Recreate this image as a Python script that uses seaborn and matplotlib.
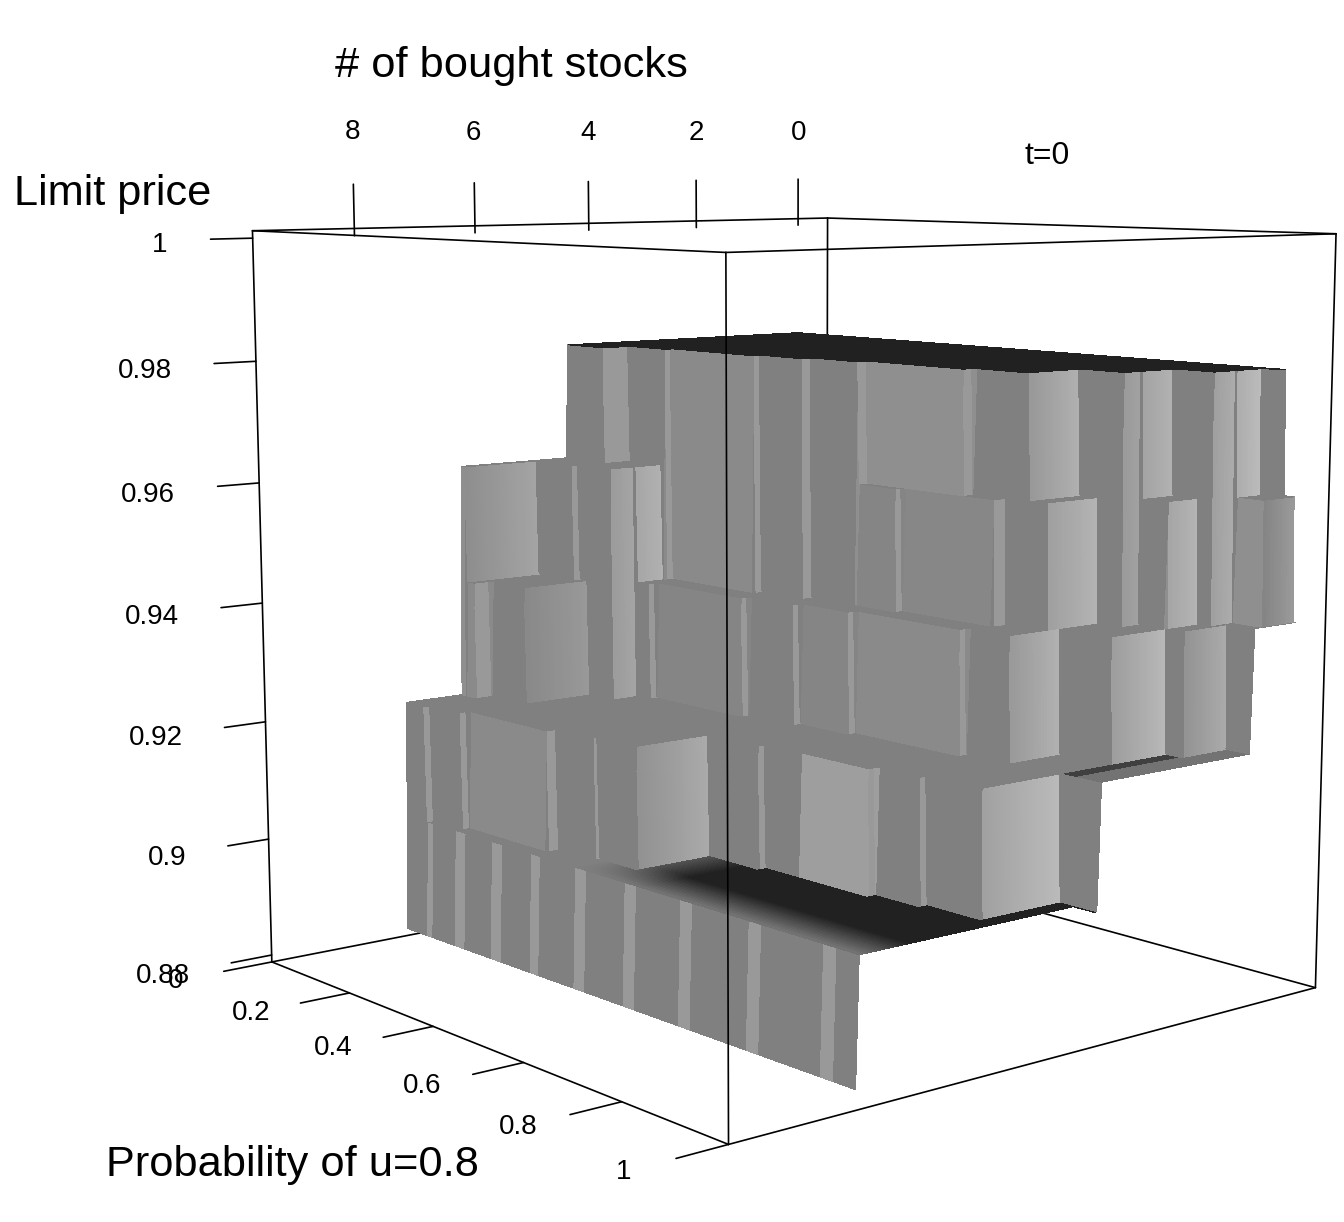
import numpy as np
import matplotlib
matplotlib.use("Agg")
import matplotlib.pyplot as plt
import seaborn as sns
from mpl_toolkits.mplot3d import proj3d

# (# stocks, probability) staircases: region with price >= level reaches s <= s_xx on each p interval
# run_xx / jump_xx are the gray tones of the walls, a tone of -1 is left out
p_98 = [0, .086, .166, .346, .432, .521, .708, .804, .879, .945, .975]
s_98 = [4.4, 3.92, 3.76, 3.60, 3.42, 3.20, 3.02, 2.05, 1.05, .15]
run_98 = [.5, .5, .54, .5, .5, .56, .5, .5, .5, .5]
jump_98 = [.6, .6, .6, .6, .6, .6, .64, .65, .68, .5]

p_96 = [0, .01, .089, .163, .235, .32, .6, .77, .84, .925, .996]
s_96 = [6.35, 5.0, 4.86, 3.76, 3.57, 3.42, 3.25, 2.95, 1.7, .63]
run_96 = [.56, .5, .5, .5, .5, .52, .53, .5, .5, .56]
jump_96 = [.6, .6, .66, .6, .6, .6, .6, .68, .7, .56]

p_94 = [0, .032, .109, .192, .379, .471, .567, .767, .844, .93, .96, 1]
s_94 = [6.35, 6.05, 4.43, 4.29, 4.14, 3.97, 3.83, 3.66, 2.7, 1.7, .85]
run_94 = [.54, .5, .5, .52, .5, .52, .54, .5, .5, .5, .5]
jump_94 = [.6, .58, .6, .6, .6, .6, .6, .65, .67, .62, .5]

p_92 = [0, .048, .115, .298, .379, .46, .56, .63, .76, .84, .935, 1]
s_92 = [7.35, 7.15, 7.0, 6.85, 6.7, 5.47, 5.32, 5.32, 5.18, 5.03, 3.62]
run_92 = [.5, .5, .54, .5, .5, .5, .5, .62, .5, .5, .5]
jump_92 = [.6, .6, .6, .6, .62, .6, .5, .6, .6, .68, .5]

p_90 = [0, .0425, .064, .122, .143, .209, .231, .299, .32, .401, .423, .51, .532, .625, .647, .761, .783, .901, .923, .965, 1]
s_90 = [7.35] * 19 + [3.72]
run_90 = [.5, .6, .5, .6, .5, .6, .5, .6, .5, .6, .5, .6, .5, .6, .5, .6, .5, .6, .5, -1]
jump_90 = [.5] * 18 + [-1, -1]

levels = [.98, .96, .94, .92, .90]
stairs = {.98: (p_98, s_98, run_98, jump_98), .96: (p_96, s_96, run_96, jump_96),
          .94: (p_94, s_94, run_94, jump_94), .92: (p_92, s_92, run_92, jump_92),
          .90: (p_90, s_90, run_90, jump_90)}
floor_level = .88

stock_ticks = [0, 2, 4, 6, 8]
prob_ticks = [0, .2, .4, .6, .8, 1]
prob_labels = ['0', '0.2', '0.4', '0.6', '0.8', '1']
price_ticks = [.88, .9, .92, .94, .96, .98, 1]
price_labels = ['0.88', '0.9', '0.92', '0.94', '0.96', '0.98', '1']

xlim = (-.6, 9.6)
ylim = (0, 1)
zlim = (.8788, 1.0012)


def reach(level, p):
    breaks, vals = stairs[level][:2]
    i = np.searchsorted(breaks, p, side='right') - 1
    if p >= breaks[-1] and breaks[-1] < 1:
        return -1.0
    return vals[min(i, len(vals) - 1)]


def ledge_tone(level, s, p):
    if level == .98:
        return .13
    if level == .92 and p > .935:
        return .25 if p < .96 else .45
    if level == .90:
        fade = np.clip((7.4 - s) / .9, 0, 1) * np.clip((p - .4) / .14, 0, 1)
        return .5 - .37 * fade
    return .5


s_nodes = np.arange(0, 7.41, .05)
p_nodes = np.linspace(0, 1, 251)
Z = np.full((len(p_nodes), len(s_nodes)), floor_level)
for lev in levels[::-1]:
    reach_p = np.array([reach(lev, p) for p in p_nodes])
    Z[s_nodes[None, :] <= reach_p[:, None]] = lev

tones = np.full(Z.shape, -1.0)
for a in range(len(p_nodes) - 1):
    for b in range(len(s_nodes) - 1):
        q = Z[a:a + 2, b:b + 2]
        top = q.max()
        pm = (p_nodes[a] + p_nodes[a + 1]) / 2
        sm = (s_nodes[b] + s_nodes[b + 1]) / 2
        if top - q.min() < 1e-6:
            tones[a, b] = ledge_tone(top, sm, pm) if top > floor_level else -1
            continue
        breaks, vals, run, jump = stairs[round(top, 2)]
        k = min(np.searchsorted(breaks, pm, side='right') - 1, len(run) - 1)
        if q[0, 0] != q[0, 1] or q[1, 0] != q[1, 1]:
            tones[a, b] = run[k]
        else:
            k = np.searchsorted(breaks, p_nodes[a + 1], side='right') - 2
            k = int(np.clip(k, 0, len(jump) - 1))
            t = jump[k]
            hi = vals[k]
            lo = vals[k + 1] if k + 1 < len(vals) else 0
            frac = np.clip((hi - sm) / max(hi - lo, .01), 0, 1)
            tones[a, b] = t * (.92 + .16 * frac) if hi - lo > .5 and t > 0 else t

sns.set_theme(style="white", font="Liberation Sans")
gray = sns.color_palette("gray", as_cmap=True)
colors = gray(np.clip(tones, 0, 1))
colors[tones < 0, 3] = 0

fig = plt.figure(figsize=(13.44, 12.22), dpi=100)
ax = fig.add_axes([154 / 1344, -20 / 1222, 1230 / 1344, 1230 / 1222], projection='3d', computed_zorder=False)
ax.set_proj_type('persp', focal_length=.46)
ax.view_init(elev=8.8, azim=50.2)
ax.set_box_aspect((1, 1, .995), zoom=1.03)
ax.set_xlim(*xlim, view_margin=0)
ax.set_ylim(*ylim, view_margin=0)
ax.set_zlim(*zlim, view_margin=0)
ax.set_xticks([])
ax.set_yticks([])
ax.set_zticks([])
ax.set_axis_off()

X, Y = np.meshgrid(s_nodes, p_nodes)
ax.plot_surface(X, Y, Z, facecolors=colors, rstride=1, cstride=1, shade=False,
                linewidth=0, antialiased=False, zorder=2)

x0, x1 = xlim
y0, y1 = ylim
z0, z1 = zlim
line = dict(color='black', lw=1.2)
# back edges go behind the surface, the rest in front
for xs, ys, zs in [([x0, x0], [y0, y0], [z0, z1]), ([x0, x1], [y0, y0], [z0, z0]), ([x0, x0], [y0, y1], [z0, z0])]:
    ax.plot(xs, ys, zs, zorder=1, **line)
for xs, ys, zs in [([x1, x1], [y0, y0], [z0, z1]), ([x1, x1], [y1, y1], [z0, z1]), ([x0, x0], [y1, y1], [z0, z1]),
                   ([x0, x1], [y1, y1], [z0, z0]), ([x1, x1], [y0, y1], [z0, z0]),
                   ([x0, x1], [y0, y0], [z1, z1]), ([x0, x1], [y1, y1], [z1, z1]),
                   ([x0, x0], [y0, y1], [z1, z1]), ([x1, x1], [y0, y1], [z1, z1])]:
    ax.plot(xs, ys, zs, zorder=3, **line)


def tick_label(x, y, z, lab, ha):
    xp, yp, _ = proj3d.proj_transform(x, y, z, ax.get_proj())
    ax.text2D(xp, yp, lab, transform=ax.transData, ha=ha, va='center', fontsize=20, color='black')


for v in stock_ticks:
    ax.plot([v, v], [y0, y0], [1.0, 1.0085], zorder=3, **line)
    tick_label(v, y0, 1.017, str(v), 'center')
for v, lab in zip(price_ticks, price_labels):
    ax.plot([x1, x1 + .64], [y0, y0], [v, v], zorder=3, **line)
    tick_label(x1 + 1.28, y0, v - .0008, lab, 'right')
for v, lab in zip(prob_ticks, prob_labels):
    ax.plot([x1, x1 + .76], [v, v], [z0, z0], zorder=3, **line)
    tick_label(x1 + 1.5, v, z0, lab, 'center')

fig.text(511 / 1344, 1 - 66 / 1222, '# of bought stocks', ha='center', va='center', fontsize=31.2, color='black')
fig.text(113 / 1344, 1 - 194 / 1222, 'Limit price', ha='center', va='center', fontsize=31.2, color='black')
fig.text(292 / 1344, 1 - 1165 / 1222, 'Probability of u=0.8', ha='center', va='center', fontsize=31.2, color='black')
fig.text(1047 / 1344, 1 - 156 / 1222, 't=0', ha='center', va='center', fontsize=23, color='black')

fig.savefig('out.png', dpi=100)
